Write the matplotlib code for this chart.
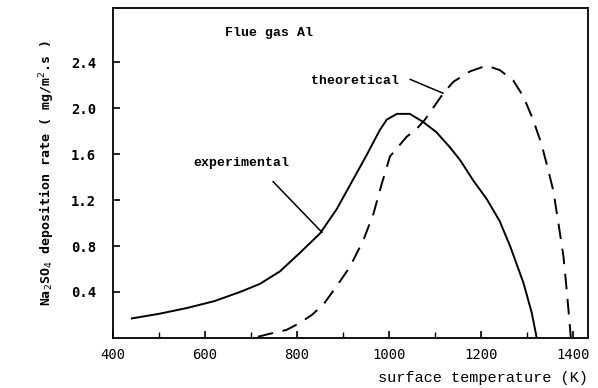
import matplotlib.pyplot as plt

# experimental curve (solid)
exp_T = [441, 500, 560, 620, 676, 719, 763, 806, 850, 886, 922, 951, 980, 995, 1017, 1045,
         1074, 1103, 1132, 1154, 1183, 1212, 1240, 1263, 1292, 1310, 1321]
exp_V = [0.17, 0.21, 0.26, 0.32, 0.40, 0.47, 0.58, 0.74, 0.91, 1.12, 1.38, 1.59, 1.81, 1.90, 1.95, 1.95,
         1.88, 1.79, 1.66, 1.55, 1.37, 1.21, 1.02, 0.80, 0.48, 0.22, 0.0]

# theoretical curve (dashed)
th_T = [715, 734, 777, 806, 832, 857, 886, 915, 944, 966, 984, 1002, 1038, 1060, 1078, 1118, 1140,
        1176, 1212, 1241, 1270, 1292, 1313, 1331, 1346, 1357, 1368, 1379, 1386, 1393, 1395]
th_V = [0.01, 0.03, 0.07, 0.13, 0.20, 0.29, 0.45, 0.62, 0.85, 1.08, 1.34, 1.58, 1.75, 1.82, 1.90, 2.13, 2.23,
        2.32, 2.37, 2.33, 2.24, 2.10, 1.90, 1.69, 1.46, 1.28, 1.00, 0.71, 0.42, 0.10, 0.0]

x_ticks = [400, 600, 800, 1000, 1200, 1400]
y_ticks = [0.4, 0.8, 1.2, 1.6, 2.0, 2.4]

mono = 'DejaVu Sans Mono'
typew = 'Liberation Mono'

fig = plt.figure(figsize=(5.98, 3.88), dpi=100)
ax = fig.add_axes([0.189, 0.129, 0.794, 0.850])

ax.plot(exp_T, exp_V, color='black', lw=1.4)
ax.plot(th_T, th_V, color='black', lw=1.4, dashes=(8, 5))

ax.set_xlim(400, 1432)
ax.set_ylim(0, 2.87)
ax.set_xticks(x_ticks)
ax.set_xticks(range(500, 1400, 200), minor=True)
ax.set_yticks(y_ticks)
ax.set_xticklabels([str(t) for t in x_ticks], family=mono, fontsize=10)
ax.set_yticklabels(['%.1f' % v for v in y_ticks], family=mono, fontsize=10, fontweight='bold')
ax.tick_params(direction='in', length=5, width=1.2, pad=7)
ax.tick_params(axis='y', pad=12)
ax.tick_params(which='minor', direction='in', length=4, width=1)
for s in ax.spines.values():
    s.set_linewidth(1.3)

ax.text(0.235, 0.924, 'Flue gas Al', transform=ax.transAxes, family=typew, fontsize=9.5,
        fontweight='bold', va='center')

# labels with leader lines
ax.text(926, 2.24, 'theoretical', family=typew, fontsize=9.5, fontweight='bold', ha='center', va='center')
ax.plot([1046, 1117], [2.25, 2.13], color='black', lw=1.1)
ax.text(678, 1.52, 'experimental', family=typew, fontsize=9.5, fontweight='bold', ha='center', va='center')
ax.plot([748, 854], [1.36, 0.92], color='black', lw=1.1)

ax.set_ylabel(r'Na$_2$SO$_4$ deposition rate ( mg/m$^2$.s )', family=mono, fontsize=9.5,
              fontweight='bold', labelpad=10)
fig.text(0.983, 0.025, 'surface temperature (K)', family=typew, fontsize=11, ha='right', va='center')

fig.savefig('out.png', dpi=100)
